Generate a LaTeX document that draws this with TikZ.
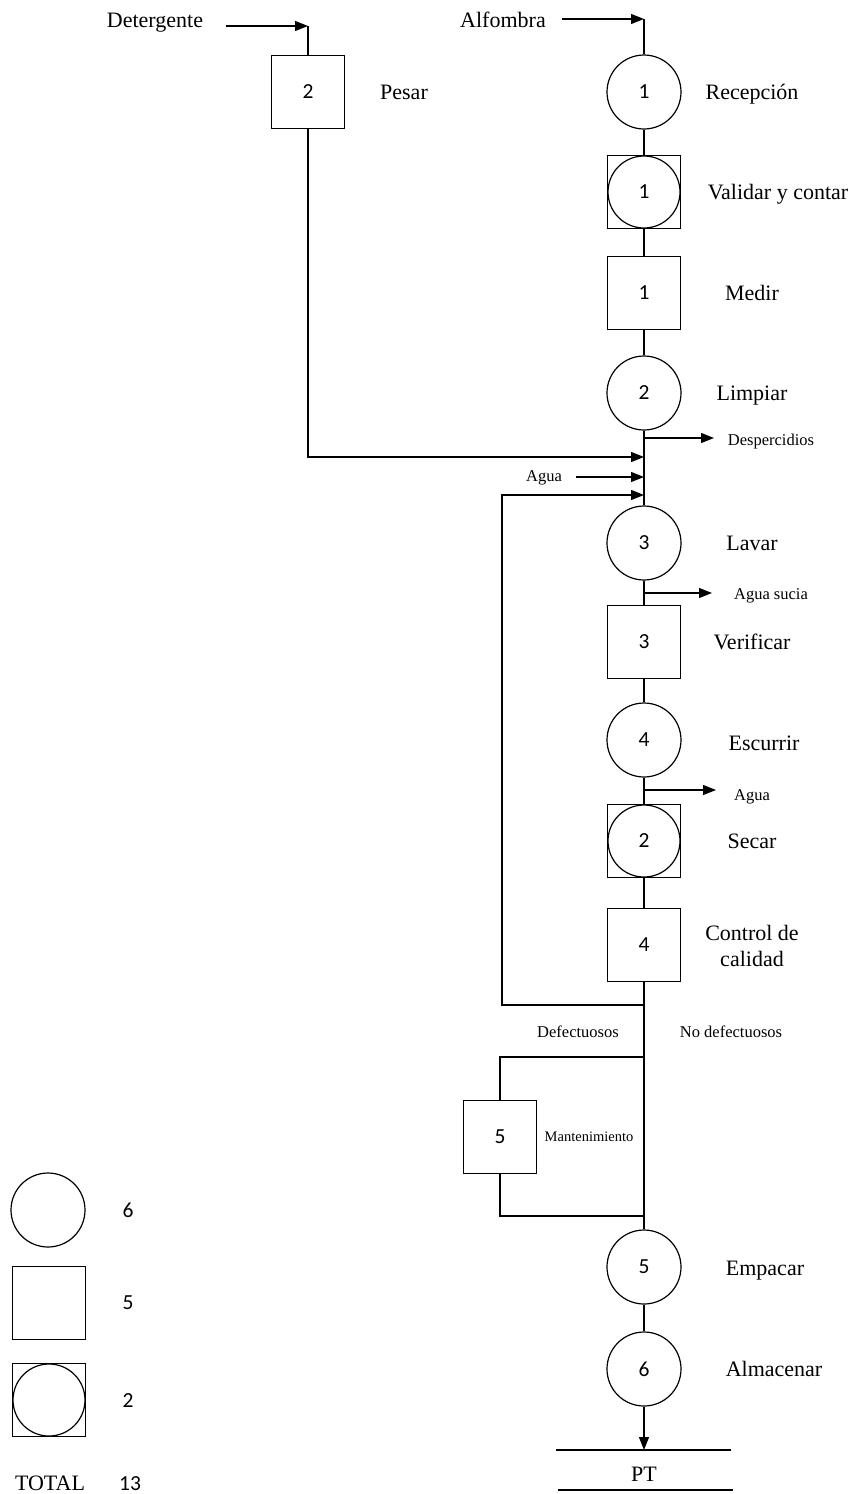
\documentclass[tikz,border=0pt]{standalone}
\usepackage{fontspec}
\setmainfont{Liberation Serif}
\newfontfamily\numx{Carlito}
\usetikzlibrary{arrows.meta}
\newcommand{\lblf}{\fontsize{22}{25}\selectfont}
\newcommand{\smlf}{\fontsize{16.5}{18}\selectfont}
\newcommand{\tinyf}{\fontsize{14.5}{16}\selectfont}
\newcommand{\numf}{\numx\fontsize{21.5}{23}\selectfont}
\tikzset{
  ln/.style={line width=1.3pt},
  opc/.style={circle,draw,line width=1.2pt,minimum size=74pt,inner sep=0pt,font=\numf},
  ins/.style={rectangle,draw,line width=1.2pt,minimum size=73pt,inner sep=0pt,font=\numf},
  comb/.style={ins,path picture={\draw[line width=1.2pt] (path picture bounding box.center) circle (36pt);}},
  lbl/.style={font=\lblf,inner sep=0pt,anchor=base,yshift=-7.3pt},
  sml/.style={font=\smlf,inner sep=0pt,anchor=base,yshift=-5.5pt},
  tny/.style={font=\tinyf,inner sep=0pt,anchor=base,yshift=-4.8pt},
  arr/.style={ln,-{Triangle[length=13pt,width=10pt]}},
}
\begin{document}
\begin{tikzpicture}[x=1pt,y=-1pt]
\useasboundingbox (0,0) rectangle (854,1494);
% main process nodes
\node[opc] (rec) at (644,92) {1};
\node[comb] (val) at (644,192) {1};
\node[ins] (med) at (644,293) {1};
\node[opc] (lim) at (644,393) {2};
\node[opc] (lav) at (644,543) {3};
\node[ins] (ver) at (644,642) {3};
\node[opc] (esc) at (644,740) {4};
\node[comb] (sec) at (644,841) {2};
\node[ins] (cc) at (644,945) {4};
\node[ins] (man) at (500,1137) {5};
\node[opc] (emp) at (644,1267) {5};
\node[opc] (alm) at (644,1369) {6};
\node[ins] (pes) at (308,92) {2};
% labels
\node[lbl] (tdet) at (155,20) {Detergente};
\node[lbl] (talf) at (503,20) {Alfombra};
\node[lbl] (tpes) at (404,92) {Pesar};
\node[lbl] (trec) at (752,92) {Recepción};
\node[lbl] (tval) at (778,192) {Validar y contar};
\node[lbl] (tmed) at (752,293) {Medir};
\node[lbl] (tlim) at (752,393) {Limpiar};
\node[lbl] (tlav) at (752,543) {Lavar};
\node[lbl] (tver) at (752,642) {Verificar};
\node[lbl] (tesc) at (764,743) {Escurrir};
\node[lbl] (tsec) at (752,841) {Secar};
\node[lbl] (tcc1) at (752,933) {Control de};
\node[lbl] (tcc2) at (752,959) {calidad};
\node[lbl] (temp) at (765,1268) {Empacar};
\node[lbl] (talm) at (774,1369) {Almacenar};
\node[sml] (tdesp) at (771,440) {Despercidios};
\node[sml] (tagua) at (544,476) {Agua};
\node[sml] (tas) at (771,594) {Agua sucia};
\node[sml] (tagua2) at (752,795) {Agua};
\node[sml] (tdef) at (578,1032) {Defectuosos};
\node[sml] (tnodef) at (731,1032) {No defectuosos};
\node[tny] (tman) at (589,1137) {Mantenimiento};
\node[lbl] (tpt) at (644,1474) {PT};
% coordinates
\coordinate (detS) at (226,26);
\coordinate (detT) at (308,26);
\coordinate (alfS) at (562,19);
\coordinate (alfT) at (644,19);
\coordinate (jDesp) at (644,438);
\coordinate (despE) at (714,438);
\coordinate (jDet) at (644,457);
\coordinate (aguaS) at (576,477);
\coordinate (jAgua) at (644,477);
\coordinate (jRet) at (644,495);
\coordinate (jAS) at (644,593);
\coordinate (asE) at (712,593);
\coordinate (jA2) at (644,790);
\coordinate (a2E) at (716,790);
\coordinate (jLoop) at (644,1005);
\coordinate (loopL) at (502,1005);
\coordinate (jDef) at (644,1057);
\coordinate (jMer) at (644,1216);
\coordinate (ptT) at (644,1450);
\coordinate (ptL1) at (556,1450);
\coordinate (ptR1) at (731,1450);
\coordinate (ptL2) at (558,1490);
\coordinate (ptR2) at (733,1490);
% connectors
\draw[arr] (detS) -- (detT);
\draw[ln] (detT) -- (pes.north);
\draw[arr] (alfS) -- (alfT);
\draw[ln] (alfT) -- (rec.north);
\draw[ln] (rec) -- (val);
\draw[ln] (val) -- (med);
\draw[ln] (med) -- (lim);
\draw[ln] (lim) -- (lav);
\draw[ln] (lav) -- (ver);
\draw[ln] (ver) -- (esc);
\draw[ln] (esc) -- (sec);
\draw[ln] (sec) -- (cc);
\draw[ln] (cc) -- (emp);
\draw[ln] (emp) -- (alm);
\draw[arr] (alm) -- (ptT);
\draw[ln] (ptL1) -- (ptR1);
\draw[ln] (ptL2) -- (ptR2);
\draw[arr] (jDesp) -- (despE);
\draw[arr] (pes.south) |- (jDet);
\draw[arr] (aguaS) -- (jAgua);
\draw[arr] (jLoop) -- (loopL) |- (jRet);
\draw[arr] (jAS) -- (asE);
\draw[arr] (jA2) -- (a2E);
\draw[ln] (jDef) -| (man.north);
\draw[ln] (man.south) |- (jMer);
% legend
\node[opc] (lgc) at (48,1210) {};
\node[ins] (lgs) at (49,1303) {};
\node[comb] (lgb) at (49,1400) {};
\node[font=\numf] (n6) at (128,1210) {6};
\node[font=\numf] (n5) at (128,1303) {5};
\node[font=\numf] (n2) at (128,1401) {2};
\node[lbl] (ttot) at (50,1483) {TOTAL};
\node[font=\numf] (n13) at (130,1484) {13};
\end{tikzpicture}
\end{document}
